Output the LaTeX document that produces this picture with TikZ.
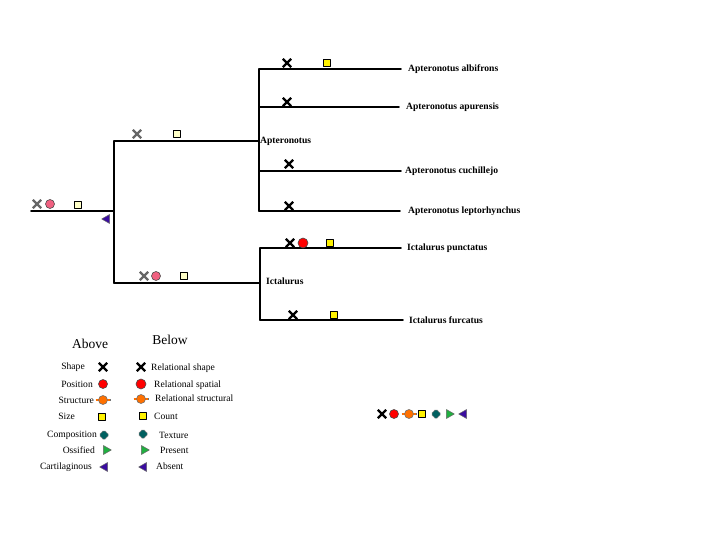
\documentclass[tikz,border=0pt]{standalone}
\usepackage{fontspec}
\setmainfont{Liberation Serif}
\usetikzlibrary{shapes.misc,shapes.geometric}
\definecolor{pinkc}{HTML}{F06080}
\definecolor{paley}{HTML}{FFFFC8}
\definecolor{orangec}{HTML}{FF7000}
\definecolor{tealc}{HTML}{006060}
\definecolor{greenc}{HTML}{20B040}
\definecolor{bluec}{HTML}{3A0CA0}

\begin{document}
\begin{tikzpicture}[x=1pt, y=-1pt, line join=round,
    branch/.style={line width=1.6pt, line cap=round},
    taxon/.style={anchor=west, inner sep=1pt, font=\fontsize{9.6}{11}\selectfont\bfseries},
    keytext/.style={inner sep=0pt, font=\fontsize{9.6}{11}\selectfont},
    head/.style={inner sep=0pt, font=\fontsize{13.5}{15}\selectfont},
    xm/.style={cross out, draw=black, line width=2.3pt, minimum size=6pt, inner sep=0pt},
    xgray/.style={xm, draw=black!60},
    dotm/.style={circle, draw=black!70, fill=red, minimum size=9pt, inner sep=0pt, line width=0.6pt},
    pinkdot/.style={dotm, fill=pinkc},
    sqm/.style={rectangle, draw=black, fill=yellow, minimum size=6.5pt, inner sep=0pt, line width=0.8pt},
    palesq/.style={sqm, fill=paley},
    triright/.style={isosceles triangle, isosceles triangle stretches, shape border rotate=0,
      draw=black!60, fill=greenc, minimum width=9pt, minimum height=8pt, inner sep=0pt, line width=0.5pt},
    trileft/.style={triright, shape border rotate=180, fill=bluec},
    structm/.pic={
      \draw[line width=2.8pt, black!55] (-7.5,0) -- (7.5,0);
      \draw[line width=1.4pt, orangec] (-7,0) -- (7,0);
      \filldraw[fill=orangec, draw=black!55, line width=0.6pt] (0,0) circle (4.5);
    },
    compm/.pic={
      \filldraw[fill=tealc, draw=black!50, line width=0.5pt, rounded corners=0.8pt]
        (-2,-4) -- (2,-4) -- (2,-2) -- (4,-2) -- (4,2) -- (2,2) -- (2,4)
        -- (-2,4) -- (-2,2) -- (-4,2) -- (-4,-2) -- (-2,-2) -- cycle;
    }]
  \useasboundingbox (0,0) rectangle (720,540);

  % tree
  \coordinate (r0) at (31,211);
  \coordinate (r1) at (114,211);
  \coordinate (aptB) at (114,141);
  \coordinate (ictB) at (114,283);
  \coordinate (a1) at (259,69);
  \coordinate (a2) at (259,107);
  \coordinate (a3) at (259,171);
  \coordinate (a4) at (259,211);
  \coordinate (i0) at (260,283);
  \coordinate (i1) at (260,248);
  \coordinate (i2) at (260,320);

  \node[taxon] (apt) at (259,141) {Apteronotus};
  \node[taxon] (ict) at (265,281) {Ictalurus};
  \node[taxon] (alb) at (407,69) {Apteronotus albifrons};
  \node[taxon] (apu) at (405,107) {Apteronotus apurensis};
  \node[taxon] (cuc) at (404,171) {Apteronotus cuchillejo};
  \node[taxon] (lep) at (407,211) {Apteronotus leptorhynchus};
  \node[taxon] (pun) at (406,248) {Ictalurus punctatus};
  \node[taxon] (fur) at (408,320) {Ictalurus furcatus};

  \draw[branch] (r0) -- (r1);
  \draw[branch] (aptB) -- (ictB);
  \draw[branch] (aptB) -- (apt.west);
  \draw[branch] (ictB) -- (i0);
  \draw[branch] (a1) -- (a4);
  \draw[branch] (i1) -- (i2);
  \draw[branch, shorten >=6pt] (a1) -- (alb.west);
  \draw[branch, shorten >=6pt] (a2) -- (apu.west);
  \draw[branch, shorten >=3pt] (a3) -- (cuc.west);
  \draw[branch, shorten >=7pt] (a4) -- (lep.west);
  \draw[branch, shorten >=5pt] (i1) -- (pun.west);
  \draw[branch, shorten >=5pt] (i2) -- (fur.west);

  % characters on the branches
  \node[xgray] (r-x) at (37,204) {};
  \node[pinkdot] (r-c) at (50,204) {};
  \node[palesq] (r-s) at (78,205) {};
  \node[trileft] (r-t) at (107,219) {};
  \node[xgray] (apt-x) at (137,134) {};
  \node[palesq] (apt-s) at (177,134) {};
  \node[xgray] (ict-x) at (144,276) {};
  \node[pinkdot] (ict-c) at (156,276) {};
  \node[palesq] (ict-s) at (184,276) {};
  \node[xm] (alb-x) at (287,63) {};
  \node[sqm] (alb-s) at (327,63) {};
  \node[xm] (apu-x) at (287,102) {};
  \node[xm] (cuc-x) at (289,164) {};
  \node[xm] (lep-x) at (289,206) {};
  \node[xm] (pun-x) at (290,243) {};
  \node[dotm, minimum size=10pt] (pun-c) at (303,243) {};
  \node[sqm] (pun-s) at (330,243) {};
  \node[xm] (fur-x) at (293,315) {};
  \node[sqm] (fur-s) at (334,315) {};

  % legend
  \node[head] (above) at (90,344) {Above};
  \node[head] (below) at (170,340) {Below};

  \node[keytext, anchor=east] (k1) at (85,367) {Shape};
  \node[keytext, anchor=east] (k2) at (93,384) {Position};
  \node[keytext, anchor=east] (k3) at (94,400) {Structure};
  \node[keytext, anchor=east] (k4) at (75,416) {Size};
  \node[keytext, anchor=east] (k5) at (97,435) {Composition};
  \node[keytext, anchor=east] (k6) at (95,450) {Ossified};
  \node[keytext, anchor=east] (k7) at (92,467) {Cartilaginous};

  \node[xm] (k1-s) at (103,367) {};
  \node[dotm] (k2-s) at (103,384) {};
  \pic at (103,400) {structm};
  \node[sqm] (k4-s) at (102,417) {};
  \pic at (104,435) {compm};
  \node[triright] (k6-s) at (106,450) {};
  \node[trileft] (k7-s) at (105,467) {};

  \node[xm] (b1-s) at (141,367) {};
  \node[dotm, minimum width=8pt, minimum height=10pt] (b2-s) at (141,384) {};
  \pic at (141,399) {structm};
  \node[sqm] (b4-s) at (143,416) {};
  \pic at (143,434) {compm};
  \node[triright] (b6-s) at (144,450) {};
  \node[trileft] (b7-s) at (144,467) {};

  \node[keytext, anchor=west] (b1) at (151,368) {Relational shape};
  \node[keytext, anchor=west] (b2) at (154,385) {Relational spatial};
  \node[keytext, anchor=west] (b3) at (155,398) {Relational structural};
  \node[keytext, anchor=west] (b4) at (154,416) {Count};
  \node[keytext, anchor=west] (b5) at (159,435) {Texture};
  \node[keytext, anchor=west] (b6) at (160,450) {Present};
  \node[keytext, anchor=west] (b7) at (156,466) {Absent};

  % all states in a row
  \node[xm] (row-x) at (382,414) {};
  \node[dotm] (row-c) at (394,414) {};
  \pic at (409,414) {structm};
  \node[sqm] (row-s) at (422,414) {};
  \pic at (436,414) {compm};
  \node[triright] (row-p) at (449,414) {};
  \node[trileft] (row-a) at (464,414) {};
\end{tikzpicture}
\end{document}
